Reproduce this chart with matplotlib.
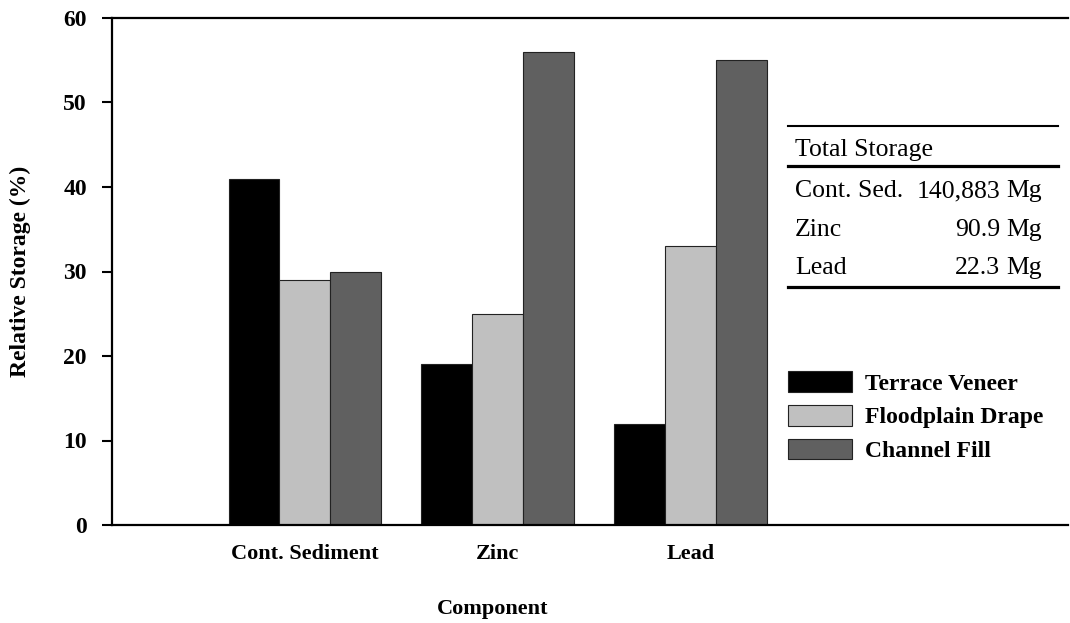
import numpy as np
import matplotlib.pyplot as plt
from matplotlib.lines import Line2D

plt.rcParams['font.family'] = ['Liberation Serif', 'DejaVu Serif']

components = ["Cont. Sediment", "Zinc", "Lead"]
series = ["Terrace Veneer", "Floodplain Drape", "Channel Fill"]
terrace = [41, 19, 12]
floodplain = [29, 25, 33]
channel = [30, 56, 55]
colors = ["#000000", "#c0c0c0", "#606060"]

table_names = ["Cont. Sed.", "Zinc", "Lead"]
table_values = ["140,883", "90.9", "22.3"]

W, H = 1070, 623
fig = plt.figure(figsize=(W / 100, H / 100), dpi=100)
ax = fig.add_axes([112 / W, 1 - 525 / H, (1068 - 112) / W, (525 - 18) / H])

x = np.arange(len(components))
w = 0.264
for i, (vals, name) in enumerate(zip([terrace, floodplain, channel], series)):
    ax.bar(x + (i - 1) * w, vals, w, color=colors[i], edgecolor="#222222",
           linewidth=0.8, label=name)

ax.set_xlim(-1, 3.955)
ax.set_ylim(0, 60)
ax.set_yticks(range(0, 61, 10))
ax.set_xticks(x)
ax.set_xticklabels(components, fontweight="bold", fontsize=16)
ax.tick_params(axis="x", length=0, pad=14)
ax.tick_params(axis="y", length=7, width=1.5, pad=11, labelsize=17)
for lab in ax.get_yticklabels():
    lab.set_fontweight("bold")

ax.spines["right"].set_visible(False)
for s in ["left", "bottom", "top"]:
    ax.spines[s].set_linewidth(1.6)

ax.set_ylabel("Relative Storage (%)", fontsize=17, fontweight="bold")
ax.yaxis.set_label_coords(-0.085, 0.5)
ax.set_xlabel("Component", fontsize=16, fontweight="bold")
ax.xaxis.set_label_coords((493 - 112) / 956, -0.145)

leg = ax.legend(loc="upper left", bbox_to_anchor=((788 - 112) / 956 - 0.022, (525 - 350) / 507),
                frameon=False, prop={"weight": "bold", "size": 17},
                handlelength=2.7, handleheight=0.95, handletextpad=0.55, labelspacing=0.45)

# summary table
def fx(px):
    return px / W

def fy(py):
    return 1 - py / H

for yy, lw in [(126, 1.5), (166, 2.3), (287, 2.3)]:
    fig.add_artist(Line2D([fx(788), fx(1058)], [fy(yy), fy(yy)], color="black", lw=lw))

fig.text(fx(795), fy(150), "Total Storage", fontsize=18.5, va="center")
for name, val, yy in zip(table_names, table_values, [191, 230, 268]):
    fig.text(fx(795), fy(yy), name, fontsize=18.5, va="center")
    fig.text(fx(1000), fy(yy), val, fontsize=18.5, va="center", ha="right")
    fig.text(fx(1006), fy(yy), "Mg", fontsize=18.5, va="center")

fig.savefig("out.png", dpi=100)
